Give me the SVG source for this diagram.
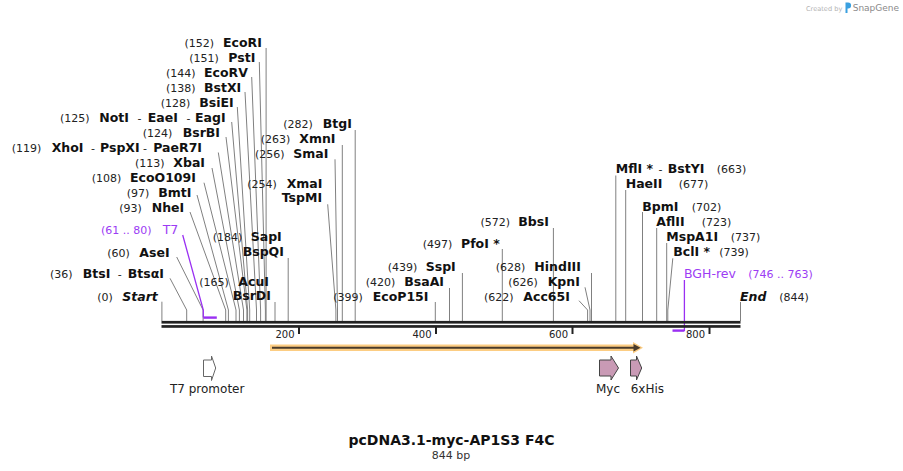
<svg xmlns="http://www.w3.org/2000/svg" width="903" height="471" viewBox="0 0 903 471">
<style>
text{font-family:"DejaVu Sans",Verdana,sans-serif;}
.n{font-size:11px;fill:#222;}
.b{font-size:12.5px;font-weight:bold;fill:#111;}
.bi{font-size:12.5px;font-weight:bold;font-style:italic;fill:#111;}
.p{fill:#9c3cf4;}
.pl{font-size:12.5px;fill:#9c3cf4;}
.cut{fill:none;stroke:#808080;stroke-width:1;}
.pr{fill:none;stroke:#9a30f2;stroke-width:1.3;}
.prb{fill:none;stroke:#9a30f2;stroke-width:2.4;}
.tick{stroke:#222;stroke-width:2;}
.tl{font-size:10px;fill:#222;}
.fl{font-size:12px;fill:#222;}
.feat{fill:#c99ab5;stroke:#444;stroke-width:1;}
</style>
<rect width="903" height="471" fill="#fff"/>
<g id="watermark">
<text x="806" y="10.5" style="font-size:6.6px;fill:#b3b3b3">Created by</text>
<path d="M845.5 2.5h2.6c2 0 3 1.3 3 3s-1 3-3 3h-0.6v4.5h-2z" fill="#3aa0e0"/>
<text x="852.7" y="11" style="font-size:9px;fill:#8a8a8a">SnapGene</text>
</g>
<g id="connectors">
<polyline class="cut" points="266.1,48 266.1,321"/>
<polyline class="cut" points="259.3,62 265.4,310 265.4,321"/>
<polyline class="cut" points="251.7,77 260.6,310 260.6,321"/>
<polyline class="cut" points="245,92 256.5,310 256.5,321"/>
<polyline class="cut" points="237.3,107 249.7,310 249.7,321"/>
<polyline class="cut" points="231.7,122 247.6,310 247.6,321"/>
<polyline class="cut" points="226,137 246.9,310 246.9,321"/>
<polyline class="cut" points="218.3,152.5 243.5,310 243.5,321"/>
<polyline class="cut" points="212,168 239.4,310 239.4,321"/>
<polyline class="cut" points="204,182.7 236,310 236,321"/>
<polyline class="cut" points="197,195 228.4,310 228.4,321"/>
<polyline class="cut" points="190,212 225.7,310 225.7,321"/>
<polyline class="cut" points="176.7,257 203.1,310 203.1,321"/>
<polyline class="cut" points="170,278.3 186.7,310 186.7,321"/>
<polyline class="cut" points="161.9,301.7 161.9,321"/>
<polyline class="cut" points="275,302 275,321"/>
<polyline class="cut" points="288.2,258 288.2,321"/>
<polyline class="cut" points="327.7,204.3 335.9,310 335.9,321"/>
<polyline class="cut" points="335,159.3 337.5,310 337.5,321"/>
<polyline class="cut" points="342.3,145 342.3,321"/>
<polyline class="cut" points="355.2,130 355.2,321"/>
<polyline class="cut" points="435.3,302 435.3,321"/>
<polyline class="cut" points="449.5,288 449.5,321"/>
<polyline class="cut" points="462.4,273 462.4,321"/>
<polyline class="cut" points="502.3,249 502.3,321"/>
<polyline class="cut" points="553.4,228 553.4,321"/>
<polyline class="cut" points="579,300.7 587.6,310 587.6,321"/>
<polyline class="cut" points="585,287.3 590,310 590,321"/>
<polyline class="cut" points="591.5,273 591.5,321"/>
<polyline class="cut" points="615.8,175.5 615.8,321"/>
<polyline class="cut" points="625.7,190 625.7,321"/>
<polyline class="cut" points="642.5,212 642.5,321"/>
<polyline class="cut" points="656.7,228 656.7,321"/>
<polyline class="cut" points="666.7,243 666.7,321"/>
<polyline class="cut" points="672.8,258.3 667.8,310 667.8,321"/>
<polyline class="cut" points="740.5,302 740.5,321"/>
<polyline class="pr" points="182.7,235 203.3,310 203.3,317.5"/>
<line class="prb" x1="203.3" y1="317.6" x2="216.8" y2="317.6"/>
<line class="pr" x1="684.4" y1="280" x2="684.4" y2="331"/>
<line class="prb" x1="672.5" y1="330.6" x2="684.4" y2="330.6"/>
</g>
<g id="backbone">
<rect x="161.5" y="320.9" width="579" height="2.7" fill="#222"/>
<rect x="161.5" y="325.1" width="579" height="2.7" fill="#222"/>
<line class="tick" x1="299" y1="327" x2="299" y2="334"/>
<line class="tick" x1="436" y1="327" x2="436" y2="334"/>
<line class="tick" x1="572.5" y1="327" x2="572.5" y2="334"/>
<line class="tick" x1="709.5" y1="327" x2="709.5" y2="334"/>
<text class="tl" x="294.5" y="337.5" text-anchor="end">200</text>
<text class="tl" x="431.5" y="337.5" text-anchor="end">400</text>
<text class="tl" x="568" y="337.5" text-anchor="end">600</text>
<text class="tl" x="705" y="337.5" text-anchor="end">800</text>
</g>
<g id="orf">
<polygon points="270,344.5 633,344.5 633,342 643,347.7 633,353.5 633,351 270,351" fill="#fcc875" opacity="0.9"/>
<line x1="272" y1="347.7" x2="635" y2="347.7" stroke="#4a3b2b" stroke-width="2"/>
<polygon points="633.5,344 640.5,347.7 633.5,351.4" fill="#4a3b2b"/>
</g>
<g id="t7promoter">
<polygon points="203.5,360 211.5,360 211.5,356 215.7,368 211.5,380.5 211.5,376.5 203.5,376.5" fill="#fff" stroke="#666" stroke-width="1"/>
<text class="fl" x="207.2" y="393.3" text-anchor="middle">T7 promoter</text>
</g>
<g id="myc">
<polygon class="feat" points="599.5,360 611,360 611,356 618.5,368 611,380 611,376 599.5,376"/>
<text class="fl" x="608" y="393.3" text-anchor="middle">Myc</text>
</g>
<g id="his6">
<polygon class="feat" points="630.5,360 636.5,360 636.5,356 641.7,368 636.5,380 636.5,376 630.5,376"/>
<text class="fl" x="630.7" y="393.3">6xHis</text>
</g>
<g id="EcoRI"><text y="46.5"><tspan class="n" x="184.5">(152)</tspan><tspan class="b" x="223">EcoRI</tspan></text></g>
<g id="PstI"><text y="61.5"><tspan class="n" x="189.3">(151)</tspan><tspan class="b" x="228.3">PstI</tspan></text></g>
<g id="EcoRV"><text y="76.5"><tspan class="n" x="166">(144)</tspan><tspan class="b" x="204">EcoRV</tspan></text></g>
<g id="BstXI"><text y="91.5"><tspan class="n" x="166">(138)</tspan><tspan class="b" x="204">BstXI</tspan></text></g>
<g id="BsiEI"><text y="106.5"><tspan class="n" x="160.7">(128)</tspan><tspan class="b" x="199.3">BsiEI</tspan></text></g>
<g id="NotI"><text y="121.5"><tspan class="n" x="60">(125)</tspan><tspan class="b" x="99.3">NotI</tspan><tspan class="n" x="137.5">-</tspan><tspan class="b" x="147.7">EaeI</tspan><tspan class="n" x="186.5">-</tspan><tspan class="b" x="195">EagI</tspan></text></g>
<g id="BsrBI"><text y="136.5"><tspan class="n" x="142.7">(124)</tspan><tspan class="b" x="182.7">BsrBI</tspan></text></g>
<g id="XhoI"><text y="151.5"><tspan class="n" x="11.7">(119)</tspan><tspan class="b" x="51.7">XhoI</tspan><tspan class="n" x="91">-</tspan><tspan class="b" x="100">PspXI</tspan><tspan class="n" x="143">-</tspan><tspan class="b" x="153.3">PaeR7I</tspan></text></g>
<g id="XbaI"><text y="166.5"><tspan class="n" x="135">(113)</tspan><tspan class="b" x="173.3">XbaI</tspan></text></g>
<g id="EcoO109I"><text y="181.5"><tspan class="n" x="91.7">(108)</tspan><tspan class="b" x="130">EcoO109I</tspan></text></g>
<g id="BmtI"><text y="196.5"><tspan class="n" x="126.7">(97)</tspan><tspan class="b" x="158.3">BmtI</tspan></text></g>
<g id="NheI"><text y="211.5"><tspan class="n" x="119.3">(93)</tspan><tspan class="b" x="151.7">NheI</tspan></text></g>
<g id="T7"><text y="233.5"><tspan class="n p" x="101">(61 .. 80)</tspan><tspan class="pl" x="162.7">T7</tspan></text></g>
<g id="AseI"><text y="256.5"><tspan class="n" x="107.3">(60)</tspan><tspan class="b" x="139.3">AseI</tspan></text></g>
<g id="BtsI"><text y="277.5"><tspan class="n" x="50">(36)</tspan><tspan class="b" x="82.7">BtsI</tspan><tspan class="n" x="117.8">-</tspan><tspan class="b" x="127.7">BtsαI</tspan></text></g>
<g id="Start"><text y="300.5"><tspan class="n" x="97.3">(0)</tspan><tspan class="bi" x="122.3">Start</tspan></text></g>
<g id="AcuI"><text y="285.7"><tspan class="n" x="199.3">(165)</tspan><tspan class="b" x="238.3">AcuI</tspan></text><text class="b" x="232.7" y="300.3">BsrDI</text></g>
<g id="SapI"><text y="241"><tspan class="n" x="212.7">(184)</tspan><tspan class="b" x="250.7">SapI</tspan></text><text class="b" x="242.7" y="255.7">BspQI</text></g>
<g id="XmaI"><text y="187.7"><tspan class="n" x="247.3">(254)</tspan><tspan class="b" x="286.7">XmaI</tspan></text><text class="b" x="281.7" y="202.3">TspMI</text></g>
<g id="SmaI"><text y="157.7"><tspan class="n" x="255">(256)</tspan><tspan class="b" x="293.3">SmaI</tspan></text></g>
<g id="XmnI"><text y="142.7"><tspan class="n" x="260.7">(263)</tspan><tspan class="b" x="299.3">XmnI</tspan></text></g>
<g id="BtgI"><text y="127.7"><tspan class="n" x="283.3">(282)</tspan><tspan class="b" x="322.7">BtgI</tspan></text></g>
<g id="EcoP15I"><text y="301"><tspan class="n" x="333.3">(399)</tspan><tspan class="b" x="372.7">EcoP15I</tspan></text></g>
<g id="BsaAI"><text y="286"><tspan class="n" x="365.7">(420)</tspan><tspan class="b" x="404.3">BsaAI</tspan></text></g>
<g id="SspI"><text y="271"><tspan class="n" x="387.7">(439)</tspan><tspan class="b" x="425.7">SspI</tspan></text></g>
<g id="PfoI"><text y="247.7"><tspan class="n" x="422.7">(497)</tspan><tspan class="b" x="461">PfoI *</tspan></text></g>
<g id="BbsI"><text y="225.7"><tspan class="n" x="480.5">(572)</tspan><tspan class="b" x="518.3">BbsI</tspan></text></g>
<g id="HindIII"><text y="271"><tspan class="n" x="495.7">(628)</tspan><tspan class="b" x="534.3">HindIII</tspan></text></g>
<g id="KpnI"><text y="286"><tspan class="n" x="508.3">(626)</tspan><tspan class="b" x="547.7">KpnI</tspan></text></g>
<g id="Acc65I"><text y="300.7"><tspan class="n" x="484">(622)</tspan><tspan class="b" x="523.3">Acc65I</tspan></text></g>
<g id="MflI"><text y="172.7"><tspan class="b" x="615.7">MflI *</tspan><tspan class="n" x="658.5">-</tspan><tspan class="b" x="667.7">BstYI</tspan><tspan class="n" x="716.7">(663)</tspan></text></g>
<g id="HaeII"><text y="187.7"><tspan class="b" x="625.7">HaeII</tspan><tspan class="n" x="678.7">(677)</tspan></text></g>
<g id="BpmI"><text y="211"><tspan class="b" x="642.3">BpmI</tspan><tspan class="n" x="691.7">(702)</tspan></text></g>
<g id="AflII"><text y="226"><tspan class="b" x="656.3">AflII</tspan><tspan class="n" x="701.7">(723)</tspan></text></g>
<g id="MspA1I"><text y="241"><tspan class="b" x="666.3">MspA1I</tspan><tspan class="n" x="730.7">(737)</tspan></text></g>
<g id="BclI"><text y="255.7"><tspan class="b" x="673.3">BclI *</tspan><tspan class="n" x="719.3">(739)</tspan></text></g>
<g id="BGH-rev"><text y="277.7"><tspan class="pl" x="684">BGH-rev</tspan><tspan class="n p" x="748.3">(746 .. 763)</tspan></text></g>
<g id="End"><text y="300.7"><tspan class="bi" x="740">End</tspan><tspan class="n" x="779.3">(844)</tspan></text></g>
<g id="title">
<text x="451.5" y="445" text-anchor="middle" style="font-size:14px;font-weight:bold;fill:#111">pcDNA3.1-myc-AP1S3 F4C</text>
<text x="451" y="458.5" text-anchor="middle" style="font-size:11px;fill:#333">844 bp</text>
</g>
</svg>
